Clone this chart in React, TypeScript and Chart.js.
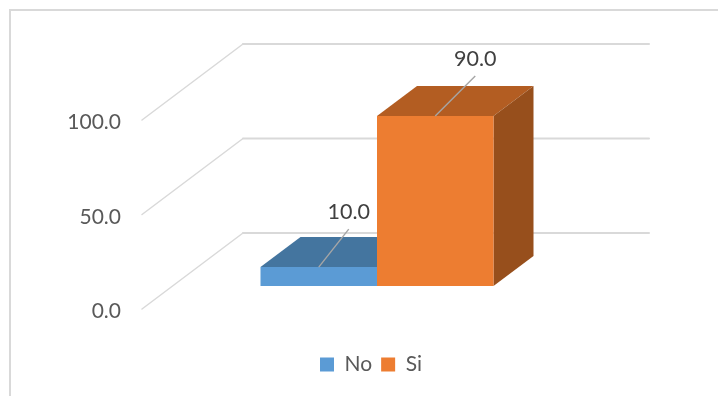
import React, { useEffect, useRef } from "react";
import { Chart, registerables } from "chart.js";

Chart.register(...registerables);

const categories = ["Respuesta"];
const noValues = [10];
const siValues = [90];
const seriesNames = ["No", "Si"];
const axisTicks = [0, 50, 100];

const FONT = "Lato, Carlito, Calibri, sans-serif";
const GRID = "#d9d9d9";
const FRONT_X = 142;
const BACK_X = 243;
const BACK_RIGHT = 649;
const WALL_RISE = 76;
const LABEL_SHIFT = 2.5;
const BAR_DX = 40;
const BAR_DY = 30;
const faces = [
  { top: "#44759f", side: "#355c80" },
  { top: "#b35d22", side: "#974f1c" },
];
const leaders = [
  { dx: 30, dy: -38, tx: 30, ty: -55 },
  { dx: 40, dy: -40, tx: 40, ty: -57 },
];

const poly = (ctx: CanvasRenderingContext2D, pts: number[][], fill: string) => {
  ctx.beginPath();
  pts.forEach(([x, y], i) => (i ? ctx.lineTo(x, y) : ctx.moveTo(x, y)));
  ctx.closePath();
  ctx.fillStyle = fill;
  ctx.fill();
};

const box3d = {
  id: "box3d",
  afterLayout(chart: any) {
    const l = chart.legend;
    if (l) {
      l.left = 12;
      l.right = 730;
      l.top = 345;
      l.bottom = 396;
    }
  },
  beforeDatasetsDraw(chart: any) {
    const { ctx } = chart;
    const y = chart.scales.y;
    ctx.save();
    ctx.lineCap = "round";
    axisTicks.forEach((t) => {
      const py = y.getPixelForValue(t) - LABEL_SHIFT;
      ctx.strokeStyle = GRID;
      ctx.lineWidth = 1.5;
      ctx.beginPath();
      ctx.moveTo(FRONT_X, py);
      ctx.lineTo(BACK_X, py - WALL_RISE);
      ctx.stroke();
      ctx.lineWidth = 2;
      ctx.beginPath();
      ctx.moveTo(BACK_X, py - WALL_RISE);
      ctx.lineTo(BACK_RIGHT, py - WALL_RISE);
      ctx.stroke();
    });
    chart.data.datasets.forEach((_: any, i: number) => {
      const bar = chart.getDatasetMeta(i).data[0];
      const hw = bar.width / 2;
      const l = bar.x - hw;
      const r = bar.x + hw;
      const t = bar.y;
      const b = bar.base;
      poly(ctx, [[l, t], [r, t], [r + BAR_DX, t - BAR_DY], [l + BAR_DX, t - BAR_DY]], faces[i].top);
      poly(ctx, [[r, t], [r + BAR_DX, t - BAR_DY], [r + BAR_DX, b - BAR_DY], [r, b]], faces[i].side);
    });
    ctx.restore();
  },
  afterDatasetsDraw(chart: any) {
    const { ctx } = chart;
    ctx.save();
    chart.data.datasets.forEach((ds: any, i: number) => {
      const bar = chart.getDatasetMeta(i).data[0];
      const L = leaders[i];
      ctx.strokeStyle = "#a6a6a6";
      ctx.lineWidth = 1.4;
      ctx.beginPath();
      ctx.moveTo(bar.x, bar.y);
      ctx.lineTo(bar.x + L.dx, bar.y + L.dy);
      ctx.stroke();
      ctx.fillStyle = "#404040";
      ctx.font = `21.5px ${FONT}`;
      ctx.textAlign = "center";
      ctx.textBaseline = "middle";
      ctx.fillText(ds.data[0].toFixed(1), bar.x + L.tx, bar.y + L.ty);
    });
    ctx.restore();
  },
};

export default function App() {
  const ref = useRef<HTMLCanvasElement>(null);
  useEffect(() => {
    const chart = new Chart(ref.current!, {
      type: "bar",
      data: {
        labels: categories,
        datasets: [
          { label: seriesNames[0], data: noValues, backgroundColor: "#5b9bd5", yAxisID: "yBar", clip: false },
          { label: seriesNames[1], data: siValues, backgroundColor: "#ed7d31", yAxisID: "yBar", clip: false },
        ],
      } as any,
      options: {
        animation: false,
        responsive: false,
        categoryPercentage: 0.5725,
        barPercentage: 1,
        layout: { padding: { top: 122.5, right: 137.5, bottom: 44.5, left: 0 } },
        plugins: {
          tooltip: { enabled: false },
          legend: {
            position: "bottom",
            labels: {
              boxWidth: 14,
              boxHeight: 14,
              padding: 9,
              color: "#595959",
              font: { family: FONT, size: 21 },
            },
          },
        },
        scales: {
          x: { display: false },
          y: {
            min: 0,
            max: 100,
            afterFit: (s: any) => {
              s.width = 173.5;
            },
            border: { display: false },
            grid: { display: false },
            ticks: {
              stepSize: 50,
              padding: 44.5,
              color: "#595959",
              font: { family: FONT, size: 21 },
              callback: (v: any) => Number(v).toFixed(1),
            },
          },
          yBar: { display: false, min: -13.49, max: 86.51 },
        },
      } as any,
      plugins: [box3d],
    });
    return () => chart.destroy();
  }, []);
  return (
    <div style={{ position: "fixed", left: 0, top: 0, width: 718, height: 396, background: "#fff", overflow: "hidden" }}>
      <div style={{ position: "absolute", left: 9, top: 9, width: 720, height: 400, borderLeft: `2px solid ${GRID}`, borderTop: `2px solid ${GRID}` }} />
      <canvas ref={ref} width={718} height={396} style={{ position: "absolute", left: 0, top: 0, display: "block" }} />
    </div>
  );
}
